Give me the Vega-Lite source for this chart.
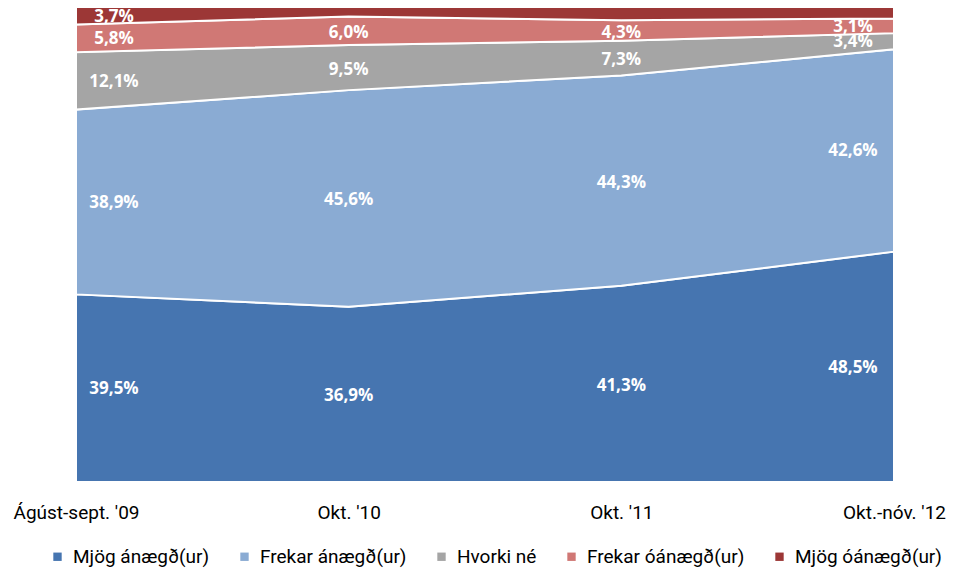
{
  "$schema": "https://vega.github.io/schema/vega-lite/v6.json",
  "width": 818,
  "height": 475,
  "autosize": {"type": "none"},
  "padding": {"left": 76, "top": 7, "right": 77, "bottom": 92},
  "background": "white",
  "config": {"view": {"stroke": null}},
  "data": {
    "values": [
      {"period": "Ágúst-sept. '09", "cat": "Mjög ánægð(ur)", "value": 39.5},
      {"period": "Ágúst-sept. '09", "cat": "Frekar ánægð(ur)", "value": 38.9},
      {"period": "Ágúst-sept. '09", "cat": "Hvorki né", "value": 12.1},
      {"period": "Ágúst-sept. '09", "cat": "Frekar óánægð(ur)", "value": 5.8},
      {"period": "Ágúst-sept. '09", "cat": "Mjög óánægð(ur)", "value": 3.7},
      {"period": "Okt. '10", "cat": "Mjög ánægð(ur)", "value": 36.9},
      {"period": "Okt. '10", "cat": "Frekar ánægð(ur)", "value": 45.6},
      {"period": "Okt. '10", "cat": "Hvorki né", "value": 9.5},
      {"period": "Okt. '10", "cat": "Frekar óánægð(ur)", "value": 6.0},
      {"period": "Okt. '10", "cat": "Mjög óánægð(ur)", "value": 2.0},
      {"period": "Okt. '11", "cat": "Mjög ánægð(ur)", "value": 41.3},
      {"period": "Okt. '11", "cat": "Frekar ánægð(ur)", "value": 44.3},
      {"period": "Okt. '11", "cat": "Hvorki né", "value": 7.3},
      {"period": "Okt. '11", "cat": "Frekar óánægð(ur)", "value": 4.3},
      {"period": "Okt. '11", "cat": "Mjög óánægð(ur)", "value": 2.8},
      {"period": "Okt.-nóv. '12", "cat": "Mjög ánægð(ur)", "value": 48.5},
      {"period": "Okt.-nóv. '12", "cat": "Frekar ánægð(ur)", "value": 42.6},
      {"period": "Okt.-nóv. '12", "cat": "Hvorki né", "value": 3.4},
      {"period": "Okt.-nóv. '12", "cat": "Frekar óánægð(ur)", "value": 3.1},
      {"period": "Okt.-nóv. '12", "cat": "Mjög óánægð(ur)", "value": 2.4}
    ]
  },
  "transform": [
    {"calculate": "indexof(['Mjög ánægð(ur)','Frekar ánægð(ur)','Hvorki né','Frekar óánægð(ur)','Mjög óánægð(ur)'], datum.cat)", "as": "rank"},
    {"stack": "value", "groupby": ["period"], "sort": [{"field": "rank", "order": "ascending"}], "as": ["v0", "v1"]},
    {"calculate": "(datum.v0 + datum.v1) / 2", "as": "mid"},
    {"calculate": "replace(format(datum.value, '.1f'), '.', ',') + '%'", "as": "label"}
  ],
  "encoding": {
    "x": {
      "field": "period",
      "type": "ordinal",
      "sort": ["Ágúst-sept. '09", "Okt. '10", "Okt. '11", "Okt.-nóv. '12"],
      "scale": {"type": "point", "padding": 0},
      "axis": {
        "title": null,
        "labelAngle": 0,
        "ticks": false,
        "domain": false,
        "grid": false,
        "labelFont": "Roboto",
        "labelFontSize": 19,
        "labelColor": "#000000",
        "labelPadding": 21,
        "labelOverlap": false
      }
    }
  },
  "layer": [
    {
      "mark": {"type": "area", "stroke": "white", "strokeWidth": 2, "opacity": 1},
      "encoding": {
        "y": {"field": "v1", "type": "quantitative", "scale": {"domain": [0, 100]}, "axis": null},
        "y2": {"field": "v0"},
        "color": {
          "field": "cat",
          "type": "nominal",
          "scale": {
            "domain": ["Mjög ánægð(ur)", "Frekar ánægð(ur)", "Hvorki né", "Frekar óánægð(ur)", "Mjög óánægð(ur)"],
            "range": ["#4675B0", "#8AABD3", "#A5A5A5", "#D07875", "#9C3736"]
          },
          "legend": {
            "title": null,
            "orient": "none",
            "direction": "horizontal",
            "legendX": -28,
            "legendY": 540,
            "symbolType": "square",
            "symbolSize": 70,
            "symbolStrokeWidth": 0,
            "symbolOpacity": 1,
            "labelFont": "Roboto",
            "labelFontSize": 19,
            "labelColor": "#000000",
            "labelOffset": 6,
            "columnPadding": 25
          }
        },
        "order": {"field": "rank", "type": "quantitative"}
      }
    },
    {
      "transform": [
        {"filter": "datum.period == \"Ágúst-sept. '09\""}
      ],
      "mark": {"type": "text", "color": "white", "font": "Open Sans", "fontWeight": "bold", "fontSize": 17, "align": "center", "baseline": "middle", "dx": 38, "dy": 1},
      "encoding": {
        "y": {"field": "mid", "type": "quantitative", "scale": {"domain": [0, 100]}},
        "text": {"field": "label"}
      }
    },
    {
      "transform": [
        {"filter": "(datum.period == \"Okt. '10\" || datum.period == \"Okt. '11\") && datum.cat != 'Mjög óánægð(ur)'"}
      ],
      "mark": {"type": "text", "color": "white", "font": "Open Sans", "fontWeight": "bold", "fontSize": 17, "align": "center", "baseline": "middle", "dx": 0, "dy": 2},
      "encoding": {
        "y": {"field": "mid", "type": "quantitative", "scale": {"domain": [0, 100]}},
        "text": {"field": "label"}
      }
    },
    {
      "transform": [
        {"filter": "datum.period == \"Okt.-nóv. '12\" && datum.cat != 'Mjög óánægð(ur)'"}
      ],
      "mark": {"type": "text", "color": "white", "font": "Open Sans", "fontWeight": "bold", "fontSize": 17, "align": "center", "baseline": "middle", "dx": -41, "dy": 1},
      "encoding": {
        "y": {"field": "mid", "type": "quantitative", "scale": {"domain": [0, 100]}},
        "text": {"field": "label"}
      }
    }
  ]
}
